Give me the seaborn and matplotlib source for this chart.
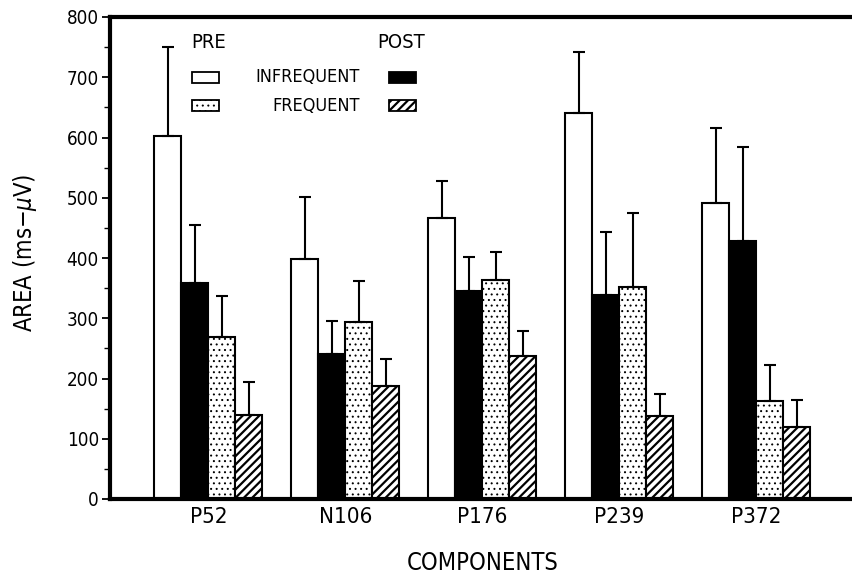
import matplotlib
matplotlib.use("Agg")
import matplotlib.pyplot as plt
import seaborn as sns
import pandas as pd
from matplotlib.patches import Rectangle

components = ["P52", "N106", "P176", "P239", "P372"]
groups = ["PRE INFREQUENT", "POST INFREQUENT", "PRE FREQUENT", "POST FREQUENT"]
pre_infreq = [602, 399, 466, 640, 492]
pre_infreq_err = [148, 103, 61, 102, 124]
post_infreq = [358, 240, 345, 338, 429]
post_infreq_err = [97, 56, 57, 105, 156]
pre_freq = [269, 293, 363, 352, 163]
pre_freq_err = [68, 69, 47, 123, 59]
post_freq = [140, 187, 238, 138, 120]
post_freq_err = [55, 46, 41, 37, 44]
yticks = [0, 100, 200, 300, 400, 500, 600, 700, 800]

values = [pre_infreq, post_infreq, pre_freq, post_freq]
errors = [pre_infreq_err, post_infreq_err, pre_freq_err, post_freq_err]
rows = []
for g, vals in zip(groups, values):
    for c, v in zip(components, vals):
        rows.append({"component": c, "group": g, "area": v})
df = pd.DataFrame(rows)

sns.set_theme(style="ticks")
plt.rcParams["font.family"] = ["DejaVu Sans"]
plt.rcParams["font.stretch"] = "condensed"
plt.rcParams["mathtext.fontset"] = "dejavusans"
plt.rcParams["hatch.linewidth"] = 1.5
for k in ["text.color", "axes.labelcolor", "xtick.color", "ytick.color", "xtick.labelcolor", "ytick.labelcolor"]:
    plt.rcParams[k] = "black"

fig = plt.figure(figsize=(8.52, 5.75), dpi=100)
L, R, T, B = 110, 852, 17, 499
ax = fig.add_axes([L / 852, 1 - B / 575, (R - L) / 852, (B - T) / 575])

sns.barplot(data=df, x="component", y="area", hue="group", order=components,
            hue_order=groups, width=0.79, ax=ax, legend=False, errorbar=None,
            edgecolor="black", linewidth=1.5)

faces = ["white", "black", "white", "white"]
hatches = [None, None, "...", "////"]
hatch_lw = [1.5, 1.5, 0.7, 1.6]
n = len(components)
for gi in range(len(groups)):
    for ci in range(n):
        p = ax.patches[gi * n + ci]
        p.set_facecolor(faces[gi])
        p.set_edgecolor("black")
        if hatches[gi]:
            p.set_hatch(hatches[gi])
            if hasattr(p, "set_hatch_linewidth"):
                p.set_hatch_linewidth(hatch_lw[gi])
        xc = p.get_x() + p.get_width() / 2
        h = p.get_height()
        ax.errorbar([xc], [h], yerr=[[0], [errors[gi][ci]]], fmt="none",
                    ecolor="black", elinewidth=1.5, capsize=4, capthick=1.5, zorder=1)

ax.set_ylim(0, 800)
ax.set_xlim(-0.718, 4.70)
ax.set_yticks(yticks)
ax.set_yticks(range(50, 800, 100), minor=True)
ax.tick_params(axis="y", which="major", length=6, width=1.3, labelsize=13.5, pad=2)
ax.tick_params(axis="y", which="minor", length=4, width=1.0)
ax.tick_params(axis="x", length=0, labelsize=16, pad=6)
for s in ["left", "bottom", "top"]:
    ax.spines[s].set_linewidth(3)
    ax.spines[s].set_color("black")
ax.spines["right"].set_visible(False)
ax.set_xlabel("COMPONENTS", fontsize=17)
ax.xaxis.set_label_coords((483 - L) / (R - L), (B - 551) / (B - T))
ax.set_ylabel("AREA (ms$-\\mu$V)", fontsize=17)
ax.yaxis.set_label_coords((39 - L) / (R - L), (B - 253) / (B - T))

# legend
tr = ax.transAxes
def ax_x(px):
    return (px - L) / (R - L)
def ax_y(py):
    return (B - py) / (B - T)
ax.text(ax_x(191), ax_y(43), "PRE", transform=tr, fontsize=14.5, va="center", ha="left")
ax.text(ax_x(377), ax_y(43), "POST", transform=tr, fontsize=14.5, va="center", ha="left")
ax.text(ax_x(360), ax_y(77), "INFREQUENT", transform=tr, fontsize=13, va="center", ha="right")
ax.text(ax_x(360), ax_y(106), "FREQUENT", transform=tr, fontsize=13, va="center", ha="right")
w = ax_x(219) - ax_x(192)
hh = ax_y(72) - ax_y(83)
leg = [
    (192, 83, "white", None, 1.5),
    (192, 111, "white", "...", 0.7),
    (389, 83, "black", None, 1.5),
    (389, 111, "white", "////", 1.6),
]
for px, py, fc, hat, hlw in leg:
    r = Rectangle((ax_x(px), ax_y(py)), w, hh, transform=tr, facecolor=fc,
                  edgecolor="black", lw=1.3, hatch=hat)
    if hat and hasattr(r, "set_hatch_linewidth"):
        r.set_hatch_linewidth(hlw)
    ax.add_patch(r)

fig.savefig("out.png", dpi=100)
